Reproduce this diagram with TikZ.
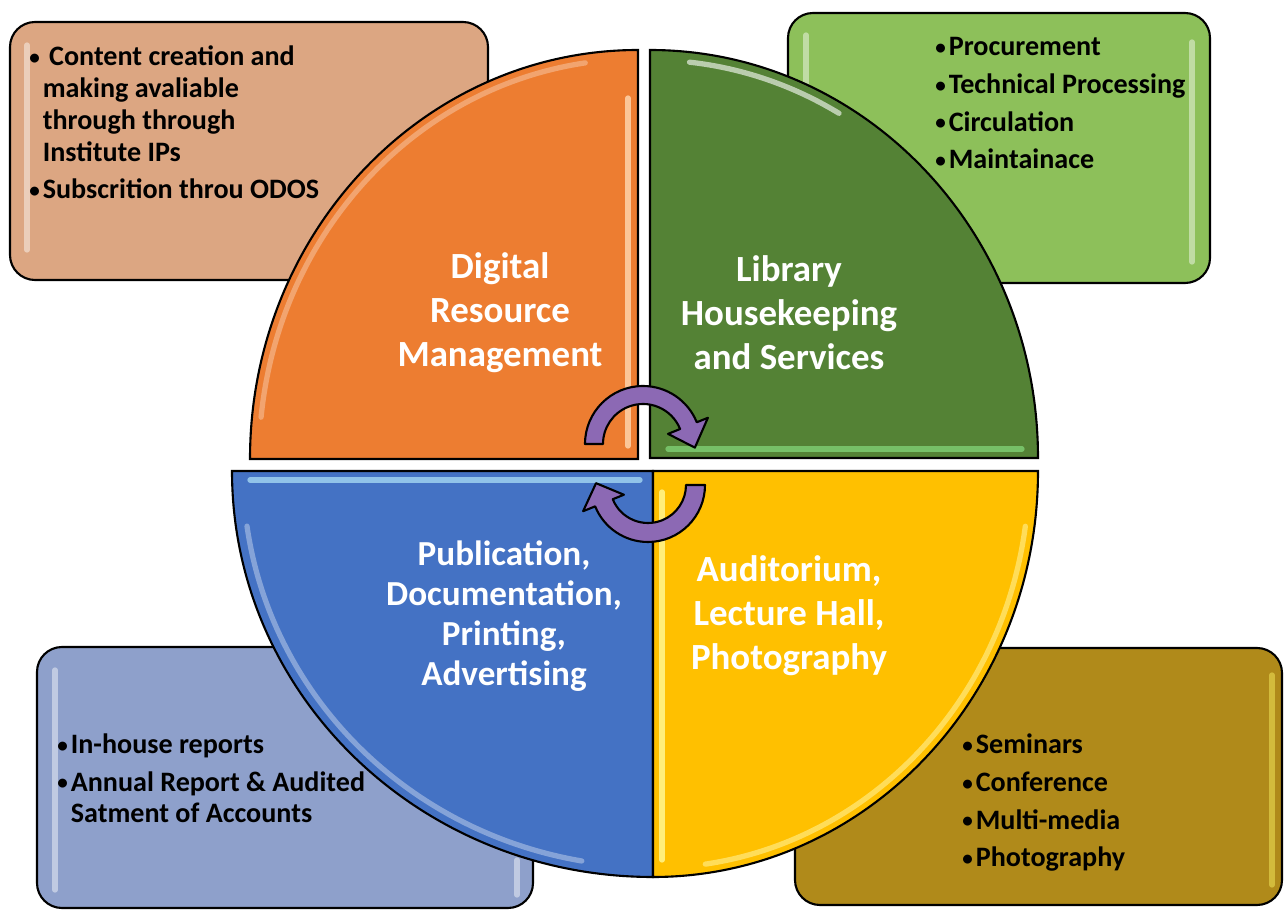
\documentclass[tikz,border=0pt]{standalone}
\usepackage{graphicx}
\usepackage{fontspec}
\setmainfont{Carlito}

\definecolor{quadorange}{HTML}{ED7D31}
\definecolor{quadgreen}{HTML}{548235}
\definecolor{quadblue}{HTML}{4472C4}
\definecolor{quadyellow}{HTML}{FFC000}
\definecolor{boxtan}{HTML}{DCA682}
\definecolor{boxgreen}{HTML}{8DC05A}
\definecolor{boxblue}{HTML}{8EA0CB}
\definecolor{boxgold}{HTML}{B08A1A}
\definecolor{turnpurple}{HTML}{8C69B4}

\newcommand{\bul}{\makebox[0.27cm][l]{\raisebox{0.6pt}{\scalebox{0.75}{\textbullet}}}}
\newcommand{\gap}{\hspace*{0.27cm}}

\begin{document}
\begin{tikzpicture}
[x=0.02cm,y=-0.02cm,%
  panel/.style={draw=black,line width=1.2pt,rounded corners=0.5cm},%
  quarter/.style={draw=black,line width=1.2pt},%
  gloss/.style={white,opacity=0.45,line width=3pt,line cap=round},%
  head/.style={text=white,font=\bfseries\fontsize{21}{25}\selectfont,align=center},%
  list/.style={font=\bfseries\fontsize{16}{18.2}\selectfont,align=left,anchor=base west,inner sep=0pt},%
  turnarrow/.style={fill=turnpurple,draw=black,line width=1.2pt,line join=round}]
\useasboundingbox (0,0) rectangle (1285,911);

% side panels
\filldraw[panel,fill=boxtan] (10,22) rectangle (488,280);
\filldraw[panel,fill=boxgreen] (788,13) rectangle (1210,283);
\filldraw[panel,fill=boxblue] (37,647) rectangle (533,908);
\filldraw[panel,fill=boxgold] (795,648) rectangle (1282,905);
\draw[gloss] (27,45) -- (27,250);
\draw[gloss] (806,35) -- (806,270) (1192,42) -- (1192,262);
\draw[gloss] (55,670) -- (55,890) (517,860) -- (517,895);
\draw[gloss,yellow!60] (1272,675) -- (1272,885);

% quarters of the wheel
\filldraw[quarter,fill=quadorange] (638,459) -- (250,459)
  arc[start angle=180,end angle=270,x radius=388,y radius=409] -- cycle;
\filldraw[quarter,fill=quadgreen] (650,458) -- (650,50)
  arc[start angle=270,end angle=360,x radius=388,y radius=408] -- cycle;
\filldraw[quarter,fill=quadblue] (653,471) -- (232,471)
  arc[start angle=180,end angle=90,x radius=421,y radius=406] -- cycle;
\filldraw[quarter,fill=quadyellow] (653,471) -- (653,877)
  arc[start angle=90,end angle=0,x radius=385,y radius=406] -- cycle;

\draw[gloss,opacity=0.3] (638,459) ++(186:379 and 400)
  arc[start angle=186,end angle=262,x radius=379,y radius=400];
\draw[gloss,orange!30,opacity=0.8] (628,98) -- (628,446);
\draw[gloss,opacity=0.6] (650,458) ++(276:378 and 398)
  arc[start angle=276,end angle=300,x radius=378,y radius=398];
\draw[gloss,green!40,opacity=0.5] (668,449) -- (1022,449);
\draw[gloss,cyan!30,opacity=0.7] (250,480) -- (640,480);
\draw[gloss,opacity=0.35] (653,471) ++(100:410 and 396)
  arc[start angle=100,end angle=172,x radius=410,y radius=396];
\draw[gloss,yellow!40,opacity=0.8] (662,492) -- (662,860);
\draw[gloss,yellow!30,opacity=0.5] (653,471) ++(8:376 and 397)
  arc[start angle=8,end angle=82,x radius=376,y radius=397];

% labels
\node[head] (drm) at (500,313) {Digital\\Resource\\Management};
\node[head] (lhs) at (789,313) {Library\\Housekeeping\\and Services};
\node[head,font=\bfseries\fontsize{20}{22.8}\selectfont] (pdp) at (504,616)
  {Publication,\\Documentation,\\Printing,\\Advertising};
\node[head] (alp) at (789,616) {Auditorium,\\Lecture Hall,\\Photography};

% bullet lists (anchored at the last baseline)
\node[list] (drmlist) at (29,199) {\bul\ Content creation and\\\gap making avaliable\\%
  \gap through through\\\gap Institute IPs\\[3.4pt]\bul Subscrition throu ODOS};
\node[list] (lhslist) at (935,169) {\bul Procurement\\[3.4pt]\bul Technical Processing\\[3.4pt]%
  \bul Circulation\\[3.4pt]\bul Maintainace};
\node[list] (pdplist) at (57,823) {\bul In-house reports\\[3.4pt]%
  \bul Annual Report \& Audited\\\gap Satment of Accounts};
\node[list] (alplist) at (962,867) {\bul Seminars\\[3.4pt]\bul Conference\\[3.4pt]%
  \bul Multi-media\\[3.4pt]\bul Photography};

% turning arrows
\begin{scope}[shift={(643,444)}]
\draw[turnarrow] (180:58) arc[start angle=180,end angle=338,radius=58]
  -- (338:70) -- (4:52) -- (338:27) -- (338:40)
  arc[start angle=338,end angle=180,radius=40] -- cycle;
\end{scope}
\begin{scope}[shift={(648,485)}]
\draw[turnarrow] (0:57) arc[start angle=0,end angle=158,radius=57]
  -- (158:70) -- (182:52) -- (158:26) -- (158:38)
  arc[start angle=158,end angle=0,radius=38] -- cycle;
\end{scope}
\end{tikzpicture}
\end{document}
